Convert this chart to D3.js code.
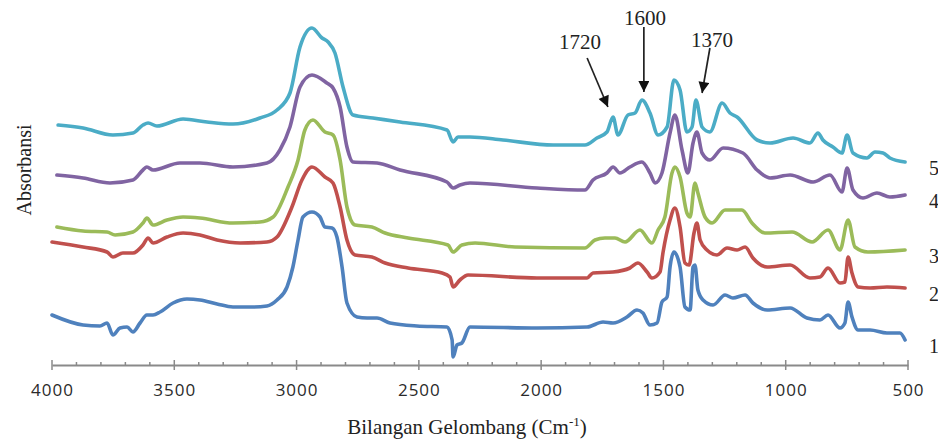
<!DOCTYPE html>
<html>
<head>
<meta charset="utf-8">
<script src="https://cdn.jsdelivr.net/npm/d3@7"></script>
<style>
  body { margin: 0; background: #fff; }
  svg { display: block; }
  .serif { font-family: "Liberation Serif", "DejaVu Serif", serif; fill: #222; }
  .tick-label { font-family: "Open Sans", "DejaVu Sans", sans-serif; }
</style>
</head>
<body>
<svg id="chart" width="938" height="439"></svg>
<script>
// Spectra: [wavenumber (cm-1), absorbance (a.u.)]
var spectrum1 = [
    [4000, 0.50], [3873, 0.40], [3804, 0.39], [3775, 0.42], [3751, 0.30], [3722, 0.37],
    [3693, 0.38], [3669, 0.33], [3640, 0.42], [3612, 0.50], [3587, 0.50], [3558, 0.53],
    [3505, 0.62], [3448, 0.66], [3395, 0.65], [3325, 0.61], [3260, 0.58], [3178, 0.58],
    [3121, 0.59], [3080, 0.65], [3039, 0.78], [3015, 0.98], [2994, 1.25], [2974, 1.48],
    [2937, 1.53], [2904, 1.48], [2884, 1.38], [2855, 1.37], [2835, 1.28], [2814, 0.98],
    [2794, 0.62], [2753, 0.48], [2712, 0.47], [2671, 0.47], [2618, 0.42], [2508, 0.39],
    [2385, 0.38], [2364, 0.25], [2360, 0.08], [2344, 0.20], [2324, 0.22], [2291, 0.38],
    [2017, 0.37], [1812, 0.38], [1747, 0.43], [1706, 0.42], [1649, 0.48], [1608, 0.55],
    [1584, 0.52], [1555, 0.40], [1526, 0.42], [1506, 0.63], [1485, 0.68], [1473, 0.98],
    [1457, 1.13], [1432, 0.98], [1412, 0.58], [1391, 0.55], [1379, 0.98], [1371, 1.00],
    [1359, 0.75], [1338, 0.65], [1297, 0.60], [1248, 0.70], [1216, 0.67], [1166, 0.70],
    [1134, 0.62], [1076, 0.55], [982, 0.57], [913, 0.47], [860, 0.45], [827, 0.50],
    [778, 0.37], [758, 0.42], [745, 0.63], [729, 0.48], [704, 0.35], [655, 0.35],
    [586, 0.32], [533, 0.32], [512, 0.25]
];

var spectrum2 = [
    [4000, 1.23], [3873, 1.18], [3775, 1.13], [3751, 1.08], [3710, 1.12], [3669, 1.12],
    [3628, 1.20], [3607, 1.27], [3587, 1.22], [3530, 1.28], [3464, 1.32], [3395, 1.30],
    [3325, 1.25], [3231, 1.22], [3121, 1.23], [3080, 1.28], [3019, 1.58], [2978, 1.85],
    [2937, 1.98], [2884, 1.88], [2851, 1.82], [2822, 1.58], [2794, 1.25], [2761, 1.10],
    [2692, 1.08], [2638, 1.02], [2544, 0.97], [2405, 0.92], [2373, 0.88], [2360, 0.78],
    [2332, 0.85], [2299, 0.90], [2017, 0.87], [1812, 0.87], [1788, 0.92], [1706, 0.93],
    [1637, 0.97], [1604, 1.02], [1567, 0.93], [1547, 0.87], [1514, 0.93], [1502, 1.12],
    [1473, 1.45], [1453, 1.57], [1432, 1.38], [1412, 1.02], [1395, 1.00], [1375, 1.32],
    [1363, 1.42], [1350, 1.25], [1322, 1.15], [1281, 1.10], [1240, 1.17], [1199, 1.15],
    [1166, 1.18], [1134, 1.07], [1076, 0.98], [982, 1.00], [901, 0.87], [860, 0.88],
    [827, 0.97], [778, 0.82], [758, 0.83], [745, 1.08], [729, 0.92], [704, 0.78],
    [655, 0.77], [586, 0.78], [512, 0.77]
];

var spectrum3 = [
    [3980, 1.38], [3873, 1.34], [3775, 1.33], [3742, 1.30], [3669, 1.33], [3628, 1.42],
    [3612, 1.47], [3587, 1.40], [3530, 1.45], [3464, 1.48], [3395, 1.47], [3260, 1.42],
    [3150, 1.43], [3096, 1.48], [3035, 1.78], [2994, 2.05], [2966, 2.35], [2933, 2.45],
    [2884, 2.33], [2851, 2.30], [2822, 2.05], [2794, 1.58], [2761, 1.40], [2692, 1.38],
    [2638, 1.32], [2544, 1.27], [2381, 1.20], [2360, 1.13], [2324, 1.20], [2270, 1.22],
    [2107, 1.18], [1821, 1.17], [1780, 1.25], [1739, 1.27], [1698, 1.27], [1657, 1.23],
    [1596, 1.35], [1547, 1.22], [1522, 1.35], [1494, 1.48], [1465, 1.92], [1453, 1.98],
    [1432, 1.88], [1404, 1.52], [1391, 1.48], [1371, 1.82], [1359, 1.72], [1330, 1.48],
    [1301, 1.42], [1248, 1.55], [1179, 1.55], [1138, 1.42], [1085, 1.32], [974, 1.33],
    [892, 1.23], [827, 1.35], [778, 1.15], [745, 1.45], [717, 1.18], [664, 1.13],
    [512, 1.15]
];

var spectrum4 = [
    [3980, 1.90], [3873, 1.87], [3763, 1.82], [3669, 1.85], [3628, 1.95], [3612, 1.98],
    [3587, 1.95], [3477, 2.02], [3395, 2.02], [3260, 1.98], [3121, 2.02], [3068, 2.15],
    [3027, 2.38], [2986, 2.78], [2937, 2.90], [2876, 2.82], [2851, 2.77], [2822, 2.58],
    [2794, 2.18], [2769, 2.03], [2671, 2.02], [2577, 1.95], [2385, 1.83], [2360, 1.77],
    [2332, 1.80], [2291, 1.82], [2017, 1.77], [1821, 1.75], [1788, 1.85], [1731, 1.92],
    [1706, 1.98], [1678, 1.92], [1637, 1.98], [1588, 2.03], [1555, 1.92], [1534, 1.82],
    [1506, 1.92], [1473, 2.32], [1453, 2.50], [1424, 2.15], [1400, 1.92], [1379, 2.22],
    [1363, 2.33], [1342, 2.12], [1310, 2.05], [1256, 2.17], [1175, 2.12], [1117, 1.95],
    [1064, 1.87], [982, 1.90], [888, 1.83], [819, 1.90], [770, 1.73], [749, 1.97],
    [725, 1.75], [684, 1.67], [627, 1.72], [574, 1.68], [512, 1.70]
];

var spectrum5 = [
    [3975, 2.40], [3873, 2.37], [3751, 2.30], [3669, 2.32], [3628, 2.40], [3607, 2.42],
    [3571, 2.39], [3464, 2.46], [3366, 2.43], [3260, 2.41], [3150, 2.47], [3080, 2.55],
    [3027, 2.72], [2986, 3.18], [2937, 3.37], [2896, 3.27], [2871, 3.23], [2843, 3.12],
    [2810, 2.78], [2769, 2.50], [2688, 2.47], [2577, 2.43], [2385, 2.35], [2360, 2.23],
    [2340, 2.28], [2291, 2.28], [2156, 2.25], [1951, 2.20], [1821, 2.20], [1772, 2.27],
    [1731, 2.33], [1706, 2.48], [1686, 2.30], [1645, 2.50], [1616, 2.52], [1588, 2.65],
    [1555, 2.52], [1522, 2.30], [1485, 2.38], [1457, 2.85], [1432, 2.75], [1404, 2.33],
    [1383, 2.38], [1367, 2.65], [1342, 2.38], [1310, 2.33], [1260, 2.62], [1228, 2.52],
    [1199, 2.48], [1117, 2.25], [1064, 2.22], [970, 2.27], [901, 2.22], [868, 2.32],
    [848, 2.25], [807, 2.18], [770, 2.12], [749, 2.30], [725, 2.12], [668, 2.07],
    [635, 2.13], [602, 2.12], [574, 2.07], [512, 2.03]
];

var seriesNames = ["1", "2", "3", "4", "5"];
var seriesColors = ["#4F81BD", "#C0504D", "#9BBB59", "#8064A2", "#4BACC6"];
var allSpectra = [spectrum1, spectrum2, spectrum3, spectrum4, spectrum5];

var xTicks = [4000, 3500, 3000, 2500, 2000, 1500, 1000, 500];
var xMinorTicks = d3.range(4000, 499, -100);

// Peak annotations: label, label position, arrow tail and tip (wavenumber, absorbance)
var peakLabels = ["1720", "1600", "1370"];
var peakLabelPos = [[1841, 3.16], [1575, 3.40], [1301, 3.18]];
var arrowTail = [[1812, 3.07], [1580, 3.38], [1310, 3.17]];
var arrowTip = [[1727, 2.58], [1580, 2.73], [1342, 2.72]];

var svg = d3.select("#chart");

var x = d3.scaleLinear().domain([4000, 500]).range([52, 908]);
var y = d3.scaleLinear().domain([0, 3.4]).range([365, 25]);

// Axis
var axisY = y(0);
var xAxis = svg.append("g")
    .attr("transform", "translate(0," + axisY + ")")
    .call(d3.axisBottom(x).tickValues(xTicks).tickSize(0).tickPadding(19)
        .tickFormat(d3.format("d")));
xAxis.select(".domain").attr("stroke", "#8a8a8a").attr("stroke-width", 2);
xAxis.selectAll(".tick line").remove();
xAxis.selectAll(".tick text")
    .attr("class", "tick-label")
    .attr("font-size", 17)
    .attr("letter-spacing", 1)
    .attr("fill", "#2a2a2a");

svg.append("g").selectAll("line.minor")
    .data(xMinorTicks)
    .enter().append("line")
    .attr("x1", function(d) { return x(d); })
    .attr("x2", function(d) { return x(d); })
    .attr("y1", function(d) { return xTicks.indexOf(d) >= 0 ? axisY - 5 : axisY - 3; })
    .attr("y2", function(d) { return xTicks.indexOf(d) >= 0 ? axisY + 5 : axisY + 1; })
    .attr("stroke", "#8a8a8a")
    .attr("stroke-width", 1.5);

// Spectra
var line = d3.line()
    .x(function(d) { return x(d[0]); })
    .y(function(d) { return y(d[1]); })
    .curve(d3.curveMonotoneX);

svg.append("g").selectAll("path")
    .data(allSpectra)
    .enter().append("path")
    .attr("d", line)
    .attr("fill", "none")
    .attr("stroke", function(d, i) { return seriesColors[i]; })
    .attr("stroke-width", 3.6)
    .attr("stroke-linejoin", "round")
    .attr("stroke-linecap", "round");

// Series numbers at the right end of each trace
svg.append("g").selectAll("text")
    .data(allSpectra)
    .enter().append("text")
    .attr("class", "serif")
    .attr("x", 929)
    .attr("y", function(d) { return y(d[d.length - 1][1]) + 6; })
    .attr("dy", "0.35em")
    .attr("font-size", 20)
    .text(function(d, i) { return seriesNames[i]; });

// Arrows
var defs = svg.append("defs");
defs.append("marker")
    .attr("id", "arrowhead")
    .attr("viewBox", "0 0 10 10")
    .attr("refX", 10).attr("refY", 5)
    .attr("markerWidth", 12).attr("markerHeight", 11)
    .attr("markerUnits", "userSpaceOnUse")
    .attr("orient", "auto")
    .append("path")
    .attr("d", "M0,0 L10,5 L0,10 Z")
    .attr("fill", "#111");

svg.append("g").selectAll("line")
    .data(peakLabels)
    .enter().append("line")
    .attr("x1", function(d, i) { return x(arrowTail[i][0]); })
    .attr("y1", function(d, i) { return y(arrowTail[i][1]); })
    .attr("x2", function(d, i) { return x(arrowTip[i][0]); })
    .attr("y2", function(d, i) { return y(arrowTip[i][1]); })
    .attr("stroke", "#222")
    .attr("stroke-width", 1.7)
    .attr("marker-end", "url(#arrowhead)");

svg.append("g").selectAll("text")
    .data(peakLabels)
    .enter().append("text")
    .attr("class", "serif")
    .attr("x", function(d, i) { return x(peakLabelPos[i][0]); })
    .attr("y", function(d, i) { return y(peakLabelPos[i][1]); })
    .attr("text-anchor", "middle")
    .attr("font-size", 21)
    .text(function(d) { return d; });

// Axis titles
svg.append("text")
    .attr("class", "serif")
    .attr("transform", "translate(31,170) rotate(-90)")
    .attr("text-anchor", "middle")
    .attr("font-size", 20)
    .text("Absorbansi");

var xTitle = svg.append("text")
    .attr("class", "serif")
    .attr("x", 467)
    .attr("y", 434)
    .attr("text-anchor", "middle")
    .attr("font-size", 21);
xTitle.append("tspan").text("Bilangan Gelombang (Cm");
xTitle.append("tspan").attr("dy", -8).attr("font-size", 13).text("-1");
xTitle.append("tspan").attr("dy", 8).text(")");
</script>
</body>
</html>
